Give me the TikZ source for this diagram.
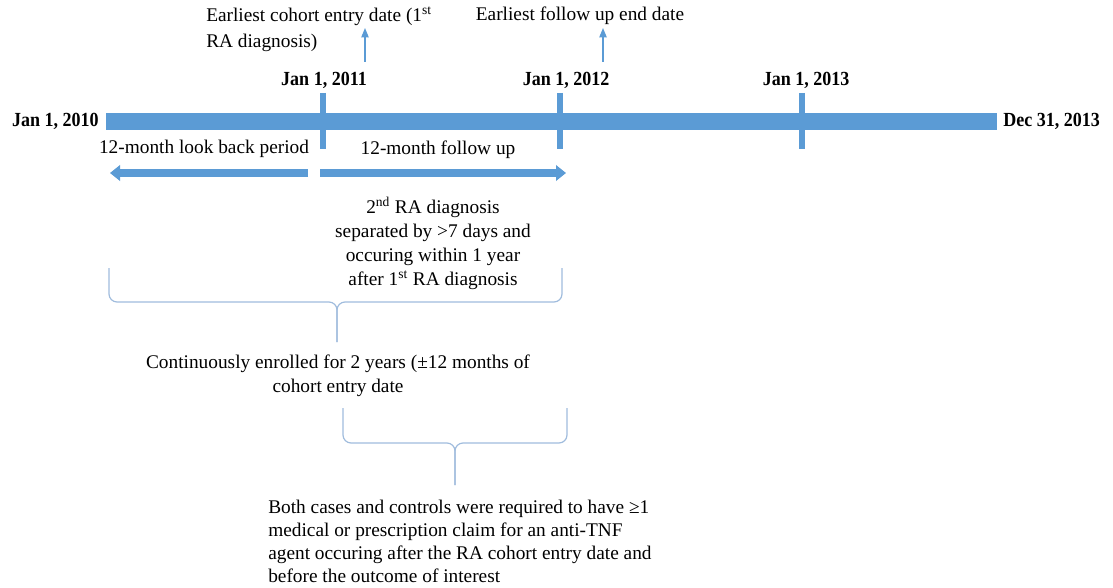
\documentclass[tikz,border=0pt]{standalone}
\usepackage{fontspec}
\setmainfont{Liberation Serif}
\newfontfamily\datefont[FakeStretch=0.9]{Liberation Serif}
\usetikzlibrary{arrows.meta,positioning}
\definecolor{barblue}{RGB}{91,155,213}
\definecolor{bracelight}{RGB}{160,188,221}

\begin{document}
\begin{tikzpicture}[x=0.75pt,y=-0.75pt,font=\fontsize{14.5}{18}\selectfont,
  timeline/.style={draw=barblue,line width=12.75pt},
  yeartick/.style={draw=barblue,line width=4.5pt},
  period/.style={draw=barblue,line width=6pt,-{Triangle[width=11.5pt,length=7.5pt]}},
  pointer/.style={draw=barblue,line width=0.9pt,-{Triangle[width=5.5pt,length=7pt]}},
  brace/.style={draw=bracelight,line width=0.9pt,rounded corners=6pt},
  date/.style={inner sep=0pt,font=\datefont\fontsize{15}{17}\selectfont\bfseries},
  note/.style={inner sep=0pt,align=center}]
\useasboundingbox (0,0) rectangle (1113,588);
% the study window
\coordinate (start) at (106,121.5);
\coordinate (stop) at (997,121.5);
\draw[timeline] (start) -- (stop);
\node[date,left=5.25pt of start] (d2010) {Jan 1, 2010};
\node[date,right=4.5pt of stop] (dend) {Dec 31, 2013};
\foreach \x/\lx/\yr in {323/324/2011,560/566/2012,802/806/2013}{
  \draw[yeartick] (\x,93) -- (\x,149);
  \node[date] (d\yr) at (\lx,80) {Jan 1, \yr};
}

% earliest dates
\node[note,align=left,anchor=west,font=\fontsize{14.5}{19.5}\selectfont] (entry) at (206,29)
  {Earliest cohort entry date (1\textsuperscript{st}\\RA diagnosis)};
\node[note] (fuend) at (580,16) {Earliest follow up end date};
\coordinate (entrytail) at (365,62);
\coordinate (entrytip) at (365,28);
\coordinate (fuendtail) at (603,62);
\coordinate (fuendtip) at (603,28);
\draw[pointer] (entrytail) -- (entrytip);
\draw[pointer] (fuendtail) -- (fuendtip);

% look back and follow up
\node[note] (lookback) at (204,149) {12-month look back period};
\node[note] (followup) at (438,150) {12-month follow up};
\coordinate (lbtail) at (308,173);
\coordinate (lbtip) at (110,173);
\coordinate (futail) at (320,173);
\coordinate (futip) at (566,173);
\draw[period] (lbtail) -- (lbtip);
\draw[period] (futail) -- (futip);

\node[note] (second) at (433,243)
  {2\textsuperscript{nd} RA diagnosis\\separated by >7 days and\\occuring within 1 year\\after 1\textsuperscript{st} RA diagnosis};

% enrolment brace
\draw[brace] (109,268) -- (109,302) -- (337,302) -- (337,342);
\draw[brace] (562,268) -- (562,302) -- (337,302) -- (337,342);
\node[note] (enrolled) at (338,376)
  {Continuously enrolled for 2 years (±12 months of\\cohort entry date};

% exposure brace
\draw[brace] (343,408) -- (343,443) -- (455,443) -- (455,485);
\draw[brace] (567,408) -- (567,443) -- (455,443) -- (455,485);
\node[note,align=left,anchor=west,font=\fontsize{14.5}{17.4}\selectfont] (antitnf) at (268,541.5)
  {Both cases and controls were required to have ≥1\\medical or prescription claim for an anti-TNF\\agent occuring after the RA cohort entry date and\\before the outcome of interest};
\end{tikzpicture}
\end{document}
